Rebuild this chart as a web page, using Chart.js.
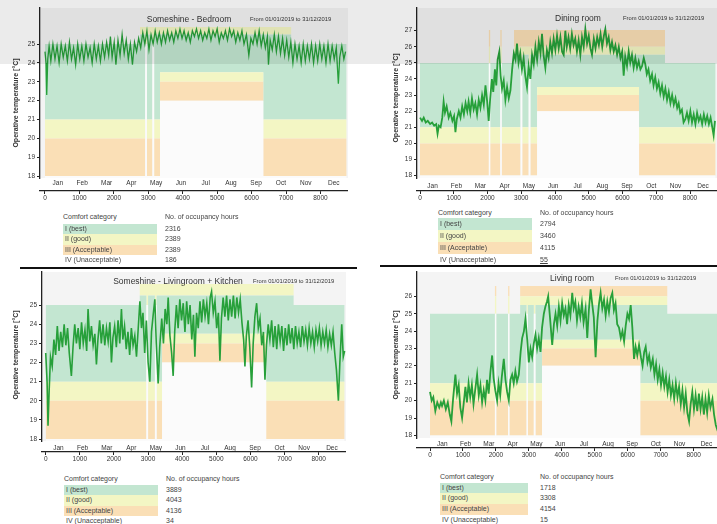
<!DOCTYPE html>
<html lang="en">
<head>
<meta charset="UTF-8">
<title>Comfort categories - Someshine</title>
<script src="https://cdn.jsdelivr.net/npm/chart.js"></script>
<style>
    body { margin: 0; width: 717px; height: 524px; overflow: hidden; background: #fff; position: relative;
           font-family: "Liberation Sans", Arial, sans-serif; color: #333; }
    canvas { position: absolute; }
    .txt { position: absolute; white-space: nowrap; }
    .ttl { font-size: 8.5px; transform: translate(-50%, -50%); }
    .rng { font-size: 5.8px; transform: translateY(-50%); }
    .ylab { font-size: 7px; font-weight: bold; transform: translate(-50%, -50%) rotate(-90deg); }
    .cell { position: absolute; font-size: 7px; line-height: 10px; height: 10px; white-space: nowrap; color: #444; }
    .rule { position: absolute; height: 2px; background: #111; }
    #shade { position: absolute; left: 0; top: 0; width: 717px; height: 64px; background: rgba(0,0,0,0.08); z-index: 5; }
</style>
</head>
<body>
<canvas id="c1" width="348" height="205" style="left:0;top:0"></canvas>
<canvas id="c2" width="340" height="205" style="left:377px;top:0"></canvas>
<canvas id="c3" width="346" height="202" style="left:0;top:264px"></canvas>
<canvas id="c4" width="343" height="198" style="left:377px;top:264px"></canvas>

<div class="txt ttl" style="left:189px;top:19px">Someshine - Bedroom</div>
<div class="txt rng" style="left:250px;top:19px">From 01/01/2019 to 31/12/2019</div>
<div class="txt ttl" style="left:578px;top:18px">Dining room</div>
<div class="txt rng" style="left:623px;top:18px">From 01/01/2019 to 31/12/2019</div>
<div class="txt ttl" style="left:178px;top:281px">Someshine - Livingroom + Kitchen</div>
<div class="txt rng" style="left:253px;top:281px">From 01/01/2019 to 31/12/2019</div>
<div class="txt ttl" style="left:572px;top:278px">Living room</div>
<div class="txt rng" style="left:615px;top:278px">From 01/01/2019 to 31/12/2019</div>

<div class="txt ylab" style="left:15px;top:103px">Operative temperature [°C]</div>
<div class="txt ylab" style="left:395px;top:98px">Operative temperature [°C]</div>
<div class="txt ylab" style="left:15px;top:355px">Operative temperature [°C]</div>
<div class="txt ylab" style="left:395px;top:355px">Operative temperature [°C]</div>

<div class="rule" style="left:20px;top:267px;width:337px"></div>
<div class="rule" style="left:380px;top:265px;width:337px"></div>
<div id="shade"></div>

<script>
    // x axis
    const monthNames = ["Jan", "Feb", "Mar", "Apr", "May", "Jun", "Jul", "Aug", "Sep", "Oct", "Nov", "Dec"];
    const monthMidHours = [372, 1080, 1788, 2508, 3228, 3948, 4668, 5400, 6132, 6852, 7572, 8388];
    const hourTicks = [0, 1000, 2000, 3000, 4000, 5000, 6000, 7000, 8000];

    // comfort table
    const comfortLabels = ["I (best)", "II (good)", "III (Acceptable)", "IV (Unacceptable)"];
    const bedroomCounts = [2316, 2389, 2389, 186];
    const diningCounts = [2794, 3460, 4115, 55];
    const kitchenCounts = [3889, 4043, 4136, 34];
    const livingCounts = [1718, 3308, 4154, 15];

    // comfort band limits: W winter, T transition, S short switch, U summer
    const lowLimits = { W: [18, 20, 21], T: [18, 20, 21], S: [25, 25, 25], U: [22, 23, 23.5] };
    const greenTop = { W: 25, T: 25.5, S: 25, U: 25.5 };

    const bedroomBandHours = [0, 2760, 2910, 2960, 3120, 3170, 3340, 6340, 7150, 8760];
    const bedroomBandKinds = ["W", "T", "S", "T", "S", "T", "U", "T", "W"];
    const bedroomTop = [25.9, 25.9];
    const diningBandHours = [0, 2040, 2080, 2380, 2420, 2785, 2980, 3030, 3220, 3270, 3470, 6490, 7260, 8760];
    const diningBandKinds = ["W", "S", "W", "S", "W", "T", "S", "T", "S", "T", "U", "T", "W"];
    const diningTop = [26, 27.05];
    const kitchenBandHours = [0, 2755, 2950, 3000, 3200, 3250, 3410, 6460, 7265, 8760];
    const kitchenBandKinds = ["W", "T", "S", "T", "S", "T", "U", "T", "W"];
    const kitchenTop = [26.1, 26.1];
    const livingBandHours = [0, 1970, 2010, 2370, 2410, 2735, 2930, 2970, 3150, 3200, 3400, 6380, 7200, 8760];
    const livingBandKinds = ["W", "S", "W", "S", "W", "T", "S", "T", "S", "T", "U", "T", "W"];
    const livingTop = [26, 26.6];

    // operative temperature readings (hour of year, degC)
    const bedroomHours = [0,30,50,80,120,170,230,290,350,410,
        470,530,590,650,710,770,830,890,950,1010,
        1070,1130,1190,1250,1310,1370,1430,1490,1550,1610,
        1670,1730,1790,1850,1900,1950,2010,2060,2120,2180,
        2240,2300,2360,2420,2480,2540,2600,2660,2720,2780,
        2840,2900,2960,3020,3080,3140,3200,3260,3320,3380,
        3440,3500,3560,3620,3680,3740,3800,3860,3920,3980,
        4040,4100,4160,4220,4280,4340,4400,4460,4520,4580,
        4640,4700,4760,4820,4880,4940,5000,5060,5120,5180,
        5240,5300,5360,5420,5480,5540,5600,5660,5720,5780,
        5850,5920,5980,6040,6100,6160,6220,6280,6340,6400,
        6460,6490,6540,6600,6660,6720,6780,6840,6900,6960,
        7020,7080,7140,7200,7260,7320,7380,7440,7500,7560,
        7620,7680,7740,7800,7860,7920,7980,8040,8100,8160,
        8220,8280,8340,8400,8460,8520,8560,8620,8680,8730];
    const bedroomTemp = [24.6,24.0,22.3,24.2,24.9,24.1,25.0,24.2,24.9,24.0,
        25.0,24.3,24.9,24.1,25.1,24.2,24.8,23.9,25.0,24.2,
        24.9,24.1,25.0,24.3,24.8,24.0,25.0,24.2,24.9,24.1,
        25.0,24.3,25.1,24.4,25.4,24.3,25.1,23.9,25.2,24.4,
        25.5,24.5,25.2,24.2,25.0,23.9,25.1,24.6,25.3,24.8,
        25.6,25.0,25.7,24.7,25.5,25.0,25.7,25.1,25.6,25.0,
        25.6,25.1,25.7,25.2,25.6,25.1,25.7,25.3,25.8,25.3,
        25.7,25.2,25.6,25.1,25.7,25.4,25.8,25.3,25.7,25.2,
        25.6,25.3,25.8,25.2,25.7,25.4,25.8,25.1,25.6,25.3,
        25.7,25.2,25.8,25.4,25.7,25.1,25.6,25.2,25.7,25.0,
        25.5,24.4,25.3,25.0,25.6,25.0,25.7,24.9,25.5,24.8,
        25.4,23.9,25.2,24.7,25.5,24.6,25.4,24.5,25.3,24.4,
        25.2,24.3,25.1,24.0,25.0,24.2,24.9,24.0,25.0,24.1,
        24.9,24.2,25.0,24.0,24.9,24.1,25.0,24.2,24.9,24.0,
        25.0,24.1,24.9,24.2,24.8,22.9,24.3,24.9,24.2,24.6];

    const diningHours = [0,60,110,170,230,300,360,420,480,520,
        560,610,660,700,740,790,850,900,960,1010,
        1050,1090,1150,1200,1250,1300,1350,1400,1440,1490,
        1540,1590,1640,1690,1740,1790,1840,1890,1940,1990,
        2035,2080,2130,2170,2220,2260,2300,2350,2390,2430,
        2480,2530,2580,2630,2680,2730,2780,2830,2874,2920,
        2970,3020,3070,3120,3170,3220,3270,3320,3370,3420,
        3470,3520,3570,3615,3660,3714,3760,3810,3860,3911,
        3960,4010,4060,4110,4160,4210,4257,4306,4350,4400,
        4450,4500,4550,4600,4650,4700,4751,4800,4850,4899,
        4950,5000,5050,5096,5150,5200,5250,5300,5350,5400,
        5450,5491,5540,5590,5640,5689,5740,5790,5840,5890,
        5940,5990,6035,6080,6133,6183,6230,6280,6330,6380,
        6430,6480,6530,6578,6630,6677,6720,6770,6820,6874,
        6920,6970,7020,7070,7120,7170,7220,7270,7320,7370,
        7420,7470,7520,7570,7620,7664,7710,7760,7810,7862,
        7910,7960,8010,8060,8110,8160,8210,8260,8310,8360,
        8410,8460,8510,8560,8610,8660,8700,8740];
    const diningTemp = [21.6,21.4,21.6,21.3,21.4,21.2,21.3,21.1,21.2,20.6,
        21.1,21.0,21.6,22.6,21.9,22.3,21.6,21.9,21.4,21.7,
        20.7,21.5,22.0,21.6,22.3,21.8,22.5,22.0,22.6,21.9,
        22.8,22.1,22.5,21.8,22.7,22.2,23.0,22.4,23.6,22.6,
        21.4,22.8,24.0,23.2,24.6,23.6,25.2,25.7,24.2,23.4,
        23.9,22.7,23.5,22.8,23.3,24.6,25.6,25.2,26.2,25.0,
        25.6,24.6,25.3,24.2,23.5,24.8,24.0,25.5,24.9,26.0,
        25.2,26.3,25.6,26.8,25.5,24.7,25.8,25.3,26.3,25.6,
        26.5,25.8,26.7,25.9,26.6,25.7,25.5,27.0,26.0,26.6,
        25.9,26.8,26.1,26.5,25.7,26.4,25.5,26.6,26.0,27.1,
        26.2,26.7,25.9,25.5,26.5,25.9,26.6,26.1,26.8,26.0,
        26.7,27.1,26.2,26.6,25.8,26.3,25.7,26.1,25.5,26.0,
        25.3,25.7,24.2,25.4,24.8,25.7,25.0,25.5,24.7,25.3,
        24.7,25.1,24.6,24.8,25.3,24.9,24.3,24.6,23.9,24.3,
        23.6,24.1,23.4,23.8,23.1,23.6,22.9,23.4,22.7,23.2,
        22.5,23.0,22.4,22.8,22.2,22.5,21.9,22.1,21.3,21.5,
        21.9,21.4,22.0,21.3,21.8,21.2,21.9,21.4,21.7,21.2,
        21.8,21.3,21.7,21.2,21.6,21.0,20.5,21.4];

    const kitchenHours = [0,40,67,100,140,190,240,290,340,390,
        440,490,540,590,640,690,752,800,850,900,
        950,1000,1050,1100,1150,1200,1241,1290,1340,1390,
        1440,1486,1530,1580,1630,1680,1730,1780,1830,1880,
        1926,1970,2020,2070,2120,2170,2219,2260,2310,2360,
        2410,2460,2510,2560,2610,2660,2708,2760,2806,2850,
        2900,2950,3000,3051,3100,3150,3198,3240,3295,3340,
        3400,3450,3500,3550,3589,3640,3690,3735,3780,3830,
        3880,3930,3980,4030,4080,4130,4180,4230,4280,4330,
        4371,4420,4470,4520,4570,4620,4670,4720,4770,4820,
        4860,4910,4960,5010,5060,5105,5150,5200,5250,5300,
        5350,5400,5450,5500,5550,5600,5650,5700,5750,5800,
        5838,5880,5930,5980,6034,6080,6130,6181,6230,6280,
        6330,6380,6425,6470,6520,6570,6621,6670,6720,6770,
        6820,6870,6920,6970,7020,7070,7120,7170,7220,7270,
        7320,7370,7420,7470,7520,7570,7620,7670,7720,7770,
        7820,7870,7920,7970,8020,8070,8120,8170,8220,8270,
        8320,8370,8420,8470,8520,8577,8620,8675,8720,8760];
    const kitchenTemp = [22.5,21.0,18.7,20.5,22.3,21.8,23.2,22.4,23.9,22.6,
        23.6,22.8,24.0,22.9,23.8,22.5,21.3,22.8,24.0,23.0,
        23.8,22.7,24.1,23.0,23.7,22.6,24.8,23.1,23.9,22.9,
        23.5,21.9,23.2,24.2,23.0,24.0,22.9,23.8,23.1,24.1,
        22.0,23.3,23.9,22.8,24.2,23.0,24.8,23.2,23.9,22.7,
        23.6,22.4,23.8,22.9,23.4,22.3,23.7,25.2,23.8,24.6,
        22.5,24.2,22.0,21.0,23.6,24.5,25.3,23.0,20.9,22.8,
        24.3,23.0,24.8,24.0,25.4,23.4,22.5,21.3,23.6,25.0,
        23.8,25.3,24.2,25.1,23.6,25.2,24.0,25.0,23.2,24.5,
        22.3,24.6,23.8,25.2,24.1,25.3,24.4,25.1,24.0,25.4,
        25.7,24.6,25.2,23.8,24.6,22.1,24.3,25.4,24.4,25.5,
        24.2,25.3,24.4,25.5,24.3,25.4,24.6,25.3,24.1,23.2,
        21.8,23.4,24.2,22.8,20.7,23.0,24.4,25.1,23.8,24.3,
        22.9,23.6,21.1,22.9,24.0,23.2,24.2,22.8,23.9,22.7,
        24.0,23.1,23.9,22.6,23.8,22.9,24.0,23.0,23.8,22.7,
        23.9,23.0,23.6,22.8,23.9,23.1,23.7,22.9,23.8,23.0,
        23.6,22.8,23.7,23.1,23.8,22.9,23.6,23.0,23.7,22.8,
        23.5,22.9,23.6,22.5,21.6,20.0,22.0,24.0,22.3,22.6];

    const livingHours = [0,50,100,161,220,280,330,365,420,480,
        540,600,648,700,770,820,870,920,973,1020,
        1074,1120,1170,1220,1270,1320,1370,1429,1480,1530,
        1581,1630,1680,1730,1780,1830,1885,1930,1980,2036,
        2080,2130,2180,2239,2290,2340,2391,2440,2492,2540,
        2590,2640,2695,2750,2796,2850,2897,2950,2998,3050,
        3100,3150,3201,3250,3300,3353,3400,3454,3500,3550,
        3586,3640,3708,3760,3809,3860,3910,3960,4010,4060,
        4110,4160,4210,4260,4316,4360,4410,4460,4510,4560,
        4610,4660,4721,4772,4820,4873,4920,4970,5025,5080,
        5130,5177,5228,5280,5330,5380,5430,5480,5532,5580,
        5630,5680,5735,5790,5840,5890,5938,5990,6040,6090,
        6140,6191,6240,6290,6343,6400,6450,6500,6545,6600,
        6650,6700,6760,6810,6860,6910,6960,7010,7060,7110,
        7160,7210,7260,7310,7360,7410,7460,7510,7558,7610,
        7660,7710,7760,7810,7862,7910,7960,8010,8060,8110,
        8160,8210,8260,8310,8360,8410,8460,8510,8571,8620,
        8672,8723,8760];
    const livingTemp = [20.5,20.0,20.2,19.4,19.9,19.6,19.9,19.7,20.0,19.5,
        19.9,19.2,18.8,20.1,21.5,20.4,20.9,19.6,19.0,19.8,
        20.8,19.9,21.0,20.2,20.9,19.8,20.6,21.5,20.3,20.9,
        19.9,20.6,20.0,21.2,20.4,21.6,22.6,21.3,20.6,20.0,
        21.0,20.3,21.4,22.4,21.2,20.5,20.0,21.2,21.5,21.0,
        21.7,21.1,21.5,22.8,23.6,24.0,24.7,23.5,22.2,23.0,
        22.5,23.3,23.8,23.0,23.6,22.8,24.2,25.0,25.4,25.7,
        26.0,24.8,23.2,24.4,25.0,24.3,25.4,24.6,25.6,24.9,
        25.3,24.4,25.5,24.9,26.2,25.3,25.7,24.6,25.4,24.8,
        25.6,24.5,25.3,23.6,25.2,26.4,25.6,24.8,22.5,24.6,
        25.6,26.2,25.3,25.8,24.9,25.7,25.1,25.9,26.2,25.2,
        25.6,24.4,24.2,23.6,24.0,23.4,24.3,25.0,24.7,25.5,
        24.2,22.4,23.1,22.6,23.2,22.5,22.0,22.8,23.1,22.2,
        22.6,21.9,22.4,21.5,22.1,21.2,21.8,20.9,21.6,20.8,
        21.4,20.5,21.2,20.3,20.9,20.1,21.0,20.2,20.8,19.8,
        20.6,19.6,20.4,19.3,18.8,19.8,20.5,19.5,20.3,19.4,
        20.4,19.5,20.2,19.2,20.1,19.3,20.3,19.6,20.1,19.2,
        18.6,18.3,18.8];

    const bedroomYTicks = [18, 19, 20, 21, 22, 23, 24, 25];
    const diningYTicks = [18, 19, 20, 21, 22, 23, 24, 25, 26, 27];
    const kitchenYTicks = [18, 19, 20, 21, 22, 23, 24, 25];
    const livingYTicks = [18, 19, 20, 21, 22, 23, 24, 25, 26];

    const bandColors = ["#fbfbfb", "#fadfb6", "#f3f6c4", "#c3e6d1", "#f3f6c4", "#fadfb6"];
    const lineColor = "#27a03a";

    Chart.defaults.font.family = '"Liberation Sans", Arial, sans-serif';
    Chart.defaults.color = "#333";

    function limitFor(kind, level, tops) {
        if (level < 3) return lowLimits[kind][level];
        if (level === 3) return greenTop[kind];
        if (kind === "W") return greenTop.W;
        return tops[level - 4];
    }

    function bandData(bandHours, bandKinds, tops, level) {
        let pts = [];
        bandKinds.forEach((k, i) => {
            let v = limitFor(k, level, tops);
            pts.push({ x: bandHours[i], y: v });
            pts.push({ x: bandHours[i + 1], y: v });
        });
        return pts;
    }

    const plotBg = {
        id: "plotBg",
        beforeDraw(chart) {
            let a = chart.chartArea;
            chart.ctx.save();
            chart.ctx.fillStyle = "#f4f4f4";
            chart.ctx.fillRect(a.left, a.top, a.right - a.left, a.bottom - a.top);
            chart.ctx.restore();
        }
    };

    function drawPanel(p) {
        let datasets = [];
        for (let level = 0; level < 6; level++) {
            datasets.push({
                data: bandData(p.bandHours, p.bandKinds, p.tops, level),
                borderWidth: 0,
                pointRadius: 0,
                backgroundColor: bandColors[level],
                fill: level === 0 ? "start" : "-1"
            });
        }
        datasets.push({
            data: p.hours.map((h, i) => ({ x: h, y: p.temps[i] })),
            borderColor: lineColor,
            borderWidth: p.lineW,
            pointRadius: 0,
            fill: false,
            order: -1
        });

        new Chart(document.getElementById(p.id), {
            type: "line",
            data: { datasets: datasets },
            plugins: [plotBg],
            options: {
                responsive: false,
                animation: false,
                events: [],
                layout: { padding: { top: 8, left: 0, right: 0, bottom: 0 }, autoPadding: false },
                plugins: { legend: { display: false }, tooltip: { enabled: false } },
                scales: {
                    x: {
                        type: "linear", position: "bottom", weight: 0,
                        min: p.xMin, max: p.xMax,
                        afterBuildTicks: s => { s.ticks = monthMidHours.map(v => ({ value: v })); },
                        afterFit: s => { s.height = p.monthH; },
                        ticks: { callback: (v, i) => monthNames[i], font: { size: 6.5 }, padding: p.monthPad, maxRotation: 0, autoSkip: false },
                        grid: { display: false, drawTicks: false },
                        border: { display: false }
                    },
                    xh: {
                        type: "linear", position: "bottom", weight: 1,
                        min: p.xMin, max: p.xMax,
                        afterBuildTicks: s => { s.ticks = hourTicks.map(v => ({ value: v })); },
                        afterFit: s => { s.height = 14; },
                        ticks: { callback: v => String(v), font: { size: 6.5 }, padding: 0, maxRotation: 0, autoSkip: false },
                        grid: { drawOnChartArea: false, tickLength: 3, color: "#222" },
                        border: { display: true, color: "#222", width: 1.2 }
                    },
                    y: {
                        position: "left",
                        min: p.yMin, max: p.yMax,
                        afterBuildTicks: s => { s.ticks = p.yTicks.map(v => ({ value: v })); },
                        afterFit: s => { s.width = p.yWidth; },
                        ticks: { callback: v => String(v), font: { size: 6.5 }, padding: 2 },
                        grid: { drawOnChartArea: false, tickLength: 3, color: "#222" },
                        border: { display: true, color: "#222", width: 1.3 }
                    }
                }
            }
        });
    }

    function drawTable(t) {
        let head1 = document.createElement("div");
        head1.className = "cell";
        head1.style.left = t.x + "px";
        head1.style.top = (t.y - 5) + "px";
        head1.textContent = "Comfort category";
        document.body.appendChild(head1);
        let head2 = document.createElement("div");
        head2.className = "cell";
        head2.style.left = t.valX + "px";
        head2.style.top = (t.y - 5) + "px";
        head2.textContent = "No. of occupancy hours";
        document.body.appendChild(head2);

        comfortLabels.forEach((label, i) => {
            let cy = t.y + t.gap + i * t.rowH;
            let c = document.createElement("div");
            c.className = "cell";
            c.style.left = t.x + "px";
            c.style.top = (cy - t.rowH / 2) + "px";
            c.style.height = t.rowH + "px";
            c.style.lineHeight = t.rowH + "px";
            c.style.width = (t.bgW - 2) + "px";
            c.style.paddingLeft = "2px";
            if (i < 3) c.style.background = [bandColors[3], bandColors[2], bandColors[1]][i];
            c.textContent = label;
            document.body.appendChild(c);

            let v = document.createElement("div");
            v.className = "cell";
            v.style.left = t.valX + "px";
            v.style.top = (cy - t.rowH / 2) + "px";
            v.style.height = t.rowH + "px";
            v.style.lineHeight = t.rowH + "px";
            v.textContent = t.counts[i];
            if (i === 3 && t.underline) v.style.textDecoration = "underline";
            document.body.appendChild(v);
        });
    }

    drawPanel({ id: "c1", hours: bedroomHours, temps: bedroomTemp, bandHours: bedroomBandHours, bandKinds: bedroomBandKinds,
        tops: bedroomTop, yMin: 17.9, yMax: 26.91, yTicks: bedroomYTicks, xMin: -145, xMax: 8800,
        yWidth: 40, monthH: 13, monthPad: 1.5, lineW: 1.3 });
    drawPanel({ id: "c2", hours: diningHours, temps: diningTemp, bandHours: diningBandHours, bandKinds: diningBandKinds,
        tops: diningTop, yMin: 17.85, yMax: 28.41, yTicks: diningYTicks, xMin: -89, xMax: 8800,
        yWidth: 40, monthH: 13, monthPad: 4, lineW: 1.8 });
    drawPanel({ id: "c3", hours: kitchenHours, temps: kitchenTemp, bandHours: kitchenBandHours, bandKinds: kitchenBandKinds,
        tops: kitchenTop, yMin: 17.9, yMax: 26.73, yTicks: kitchenYTicks, xMin: -109, xMax: 8800,
        yWidth: 42, monthH: 11, monthPad: 3, lineW: 1.6 });
    drawPanel({ id: "c4", hours: livingHours, temps: livingTemp, bandHours: livingBandHours, bandKinds: livingBandKinds,
        tops: livingTop, yMin: 17.85, yMax: 27.4, yTicks: livingYTicks, xMin: -395, xMax: 8800,
        yWidth: 40, monthH: 10, monthPad: 2.5, lineW: 1.8 });

    drawTable({ x: 63, y: 217, gap: 12, rowH: 10.5, bgW: 94, valX: 165, counts: bedroomCounts });
    drawTable({ x: 438, y: 213, gap: 11, rowH: 12, bgW: 94, valX: 540, counts: diningCounts, underline: true });
    drawTable({ x: 64, y: 479, gap: 11, rowH: 10.5, bgW: 94, valX: 166, counts: kitchenCounts });
    drawTable({ x: 440, y: 477, gap: 11, rowH: 10.7, bgW: 88, valX: 540, counts: livingCounts });
</script>
</body>
</html>
